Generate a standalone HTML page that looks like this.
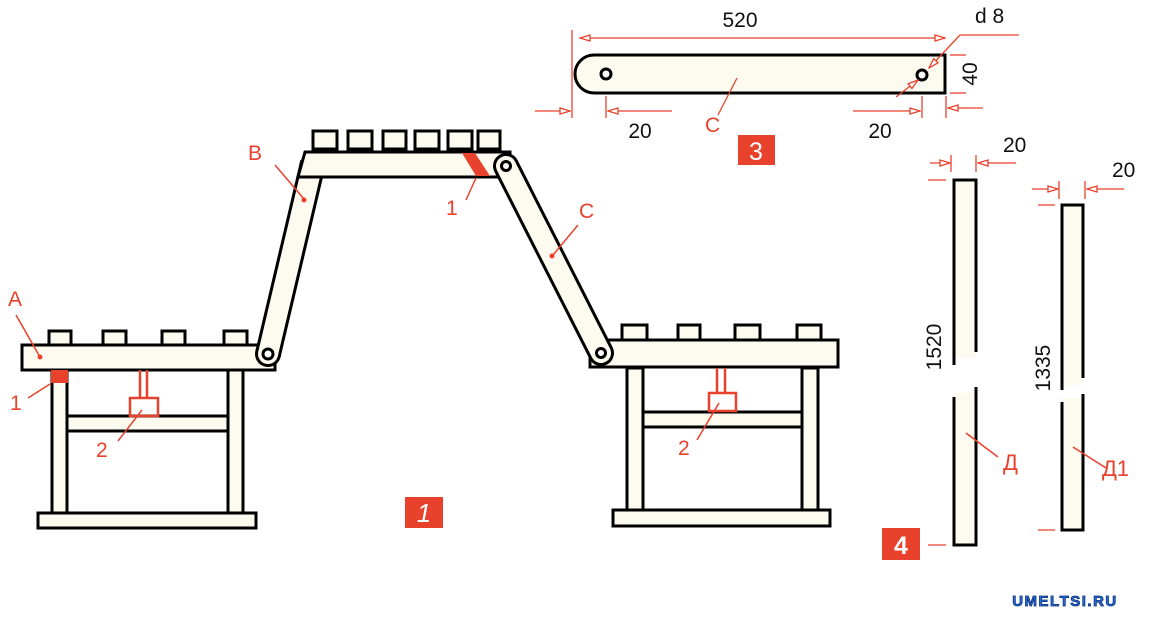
<!DOCTYPE html>
<html><head><meta charset="utf-8"><style>
html,body{margin:0;padding:0;background:#fff;width:1153px;height:629px;overflow:hidden}
svg{display:block}
text{font-family:"Liberation Sans",sans-serif}
</style></head><body>
<svg width="1153" height="629" viewBox="0 0 1153 629" xmlns="http://www.w3.org/2000/svg">
<defs>
<marker id="ah" markerWidth="12" markerHeight="8" refX="11" refY="4" orient="auto" markerUnits="userSpaceOnUse">
<path d="M1,1 L11,4 L1,7 Z" fill="#fff" stroke="#e8412c" stroke-width="1.3"/></marker>
</defs>
<g stroke="#000" stroke-width="3" fill="#fdfbf0">
<rect x="49" y="331" width="22" height="14"/><rect x="103" y="331" width="23" height="14"/><rect x="162" y="331" width="23" height="14"/><rect x="224" y="331" width="23" height="14"/>
<rect x="52" y="370" width="15" height="143"/><rect x="228" y="370" width="15" height="143"/>
<rect x="67" y="416" width="161" height="15"/>
<rect x="38" y="513" width="218" height="15"/>
<rect x="22" y="345" width="253" height="25"/>
<rect x="622" y="325" width="25" height="15"/><rect x="678" y="325" width="22" height="15"/><rect x="735" y="325" width="25" height="15"/><rect x="797" y="325" width="24" height="15"/>
<rect x="627" y="368" width="16" height="142"/><rect x="802" y="368" width="16" height="142"/>
<rect x="643" y="412" width="159" height="15"/>
<rect x="613" y="510" width="217" height="16"/>
<rect x="590" y="340" width="248" height="27"/>
</g>
<rect x="51" y="370" width="17" height="13" fill="#e8412c"/>
<g stroke="#e8412c" stroke-width="2.5" fill="none">
<line x1="140" y1="370" x2="140" y2="398"/><line x1="147" y1="370" x2="147" y2="398"/>
<rect x="130" y="398" width="28" height="18"/>
<line x1="717" y1="368" x2="717" y2="393"/><line x1="725" y1="368" x2="725" y2="393"/>
<rect x="709" y="393" width="27" height="18"/>
</g>
<!-- B -->
<line x1="268" y1="354" x2="313" y2="163" stroke="#000" stroke-width="26"/>
<circle cx="268" cy="354" r="13" fill="#000"/>
<line x1="268" y1="354" x2="313" y2="163" stroke="#fdfbf0" stroke-width="20"/>
<circle cx="268" cy="354" r="10" fill="#fdfbf0"/>
<circle cx="268" cy="354" r="5" fill="#fff" stroke="#000" stroke-width="3"/>
<g stroke="#000" stroke-width="3" fill="#fdfbf0">
<rect x="313" y="131" width="24" height="18"/><rect x="348" y="131" width="24" height="18"/><rect x="383" y="131" width="23" height="18"/><rect x="415" y="131" width="24" height="18"/><rect x="448" y="131" width="24" height="18"/><rect x="478" y="131" width="22" height="18"/>
<path d="M305,152 L510,152 L510,177 L298,177 Z"/>
</g>
<path d="M462,153 L475,153 L490,176 L476,176 Z" fill="#e8412c"/>
<!-- C -->
<line x1="506" y1="166" x2="601" y2="353" stroke="#000" stroke-width="26" stroke-linecap="round"/>
<line x1="506" y1="166" x2="601" y2="353" stroke="#fdfbf0" stroke-width="20" stroke-linecap="round"/>
<circle cx="506" cy="166" r="4.5" fill="#fff" stroke="#000" stroke-width="3"/>
<circle cx="601" cy="353" r="4.5" fill="#fff" stroke="#000" stroke-width="3"/>
<g fill="#e8412c" font-size="21">
<text x="8" y="306">A</text><text x="248" y="160">B</text><text x="446" y="215">1</text><text x="10" y="410">1</text>
<text x="96" y="457">2</text><text x="579" y="218">C</text><text x="678" y="455">2</text>
</g>
<g stroke="#e8412c" stroke-width="1.5">
<line x1="16" y1="315" x2="40" y2="357"/><line x1="275" y1="165" x2="304" y2="199"/>
<line x1="466" y1="200" x2="476" y2="178"/><line x1="28" y1="398" x2="50" y2="384"/>
<line x1="118" y1="441" x2="142" y2="410"/><line x1="578" y1="225" x2="553" y2="255"/>
<line x1="697" y1="440" x2="719" y2="403"/>
</g>
<g fill="#e8412c"><circle cx="40" cy="357" r="2.5"/><circle cx="304" cy="200" r="2.5"/><circle cx="552" cy="256" r="2.5"/><circle cx="737" cy="78" r="2.5"/><circle cx="966" cy="433" r="2.5"/><circle cx="1073" cy="447" r="2.5"/></g>
<rect x="405" y="497" width="38" height="31" fill="#e8412c"/>
<text x="424" y="522" fill="#fff" font-family="Liberation Serif,serif" font-style="italic" font-size="26" text-anchor="middle">1</text>
<!-- part 3 -->
<path d="M594,55 L945,55 L945,93 L594,93 A19,19 0 0 1 594,55 Z" fill="#fdfbf0" stroke="#000" stroke-width="3"/>
<circle cx="606" cy="74" r="5" fill="#fff" stroke="#000" stroke-width="3"/>
<circle cx="922" cy="75" r="5" fill="#fff" stroke="#000" stroke-width="3"/>
<g stroke="#e8412c" stroke-width="1.3" fill="none">
<line x1="572" y1="30" x2="572" y2="118"/>
<line x1="600" y1="38" x2="945" y2="38" marker-end="url(#ah)"/><line x1="600" y1="38" x2="580" y2="38" marker-end="url(#ah)"/>
<line x1="535" y1="111" x2="570" y2="111" marker-end="url(#ah)"/>
<line x1="606" y1="96" x2="606" y2="118"/><line x1="672" y1="111" x2="608" y2="111" marker-end="url(#ah)"/>
<line x1="922" y1="96" x2="922" y2="118"/><line x1="853" y1="111" x2="920" y2="111" marker-end="url(#ah)"/>
<line x1="946" y1="96" x2="946" y2="118"/><line x1="983" y1="108" x2="948" y2="108" marker-end="url(#ah)"/>
<line x1="950" y1="55" x2="966" y2="55"/><line x1="950" y1="93" x2="966" y2="93"/>
<line x1="1019" y1="35" x2="960" y2="35"/><line x1="960" y1="35" x2="929" y2="68" marker-end="url(#ah)"/>
<line x1="896" y1="97" x2="918" y2="80" marker-end="url(#ah)"/>
</g>
<g font-size="21" fill="#111">
<text x="740" y="27" text-anchor="middle">520</text>
<text x="975" y="23">d 8</text>
<text x="640" y="138" text-anchor="middle">20</text>
<text x="880" y="138" text-anchor="middle">20</text>
<text transform="translate(977,74) rotate(-90)" text-anchor="middle">40</text>
<text x="1003" y="152">20</text><text x="1112" y="177">20</text>
<text transform="translate(941,347) rotate(-90)" text-anchor="middle">1520</text>
<text transform="translate(1050,368) rotate(-90)" text-anchor="middle">1335</text>
</g>
<text x="705" y="132" fill="#e8412c" font-size="21">C</text>
<line x1="737" y1="78" x2="718" y2="115" stroke="#e8412c" stroke-width="1.3"/>
<rect x="738" y="135" width="37" height="30" fill="#e8412c"/>
<text x="756" y="160" fill="#fff" font-family="Liberation Serif,serif" font-size="25" text-anchor="middle">3</text>
<!-- part 4 -->
<g fill="#fdfbf0" stroke="none">
<rect x="954" y="180" width="22" height="178"/><rect x="954" y="393" width="22" height="152"/>
<rect x="1062" y="205" width="21" height="180"/><rect x="1062" y="398" width="21" height="132"/></g>
<g stroke="#000" stroke-width="3" fill="none">
<path d="M954,365 L954,180 L976,180 L976,352"/><path d="M976,387 L976,545 L954,545 L954,397"/>
<path d="M1062,390 L1062,205 L1083,205 L1083,378"/><path d="M1083,394 L1083,530 L1062,530 L1062,402"/>
</g>
<g stroke="#e8412c" stroke-width="1.3" fill="none">
<line x1="930" y1="163" x2="950" y2="163" marker-end="url(#ah)"/><line x1="951" y1="155" x2="951" y2="172"/>
<line x1="976" y1="155" x2="976" y2="172"/><line x1="1016" y1="163" x2="978" y2="163" marker-end="url(#ah)"/>
<line x1="928" y1="180" x2="946" y2="180"/><line x1="928" y1="545" x2="946" y2="545"/>
<line x1="1032" y1="189" x2="1058" y2="189" marker-end="url(#ah)"/><line x1="1059" y1="181" x2="1059" y2="199"/>
<line x1="1085" y1="181" x2="1085" y2="199"/><line x1="1124" y1="189" x2="1087" y2="189" marker-end="url(#ah)"/>
<line x1="1038" y1="205" x2="1055" y2="205"/><line x1="1038" y1="530" x2="1055" y2="530"/>
<line x1="966" y1="433" x2="998" y2="457" stroke-width="1.6"/><line x1="1073" y1="447" x2="1106" y2="468" stroke-width="1.6"/>
</g>
<text x="1003" y="470" fill="#e8412c" font-size="22">Д</text>
<text x="1102" y="476" fill="#e8412c" font-size="22">Д1</text>
<rect x="882" y="528" width="38" height="32" fill="#e8412c"/>
<text x="901" y="554" fill="#fff" font-family="Liberation Serif,serif" font-weight="bold" font-size="25" text-anchor="middle">4</text>
<text x="1065" y="606" fill="#2a6fd8" stroke="#0b2f7a" stroke-width="0.8" font-size="15" font-weight="bold" text-anchor="middle" letter-spacing="1.5">UMELTSI.RU</text>
</svg>
</body></html>
